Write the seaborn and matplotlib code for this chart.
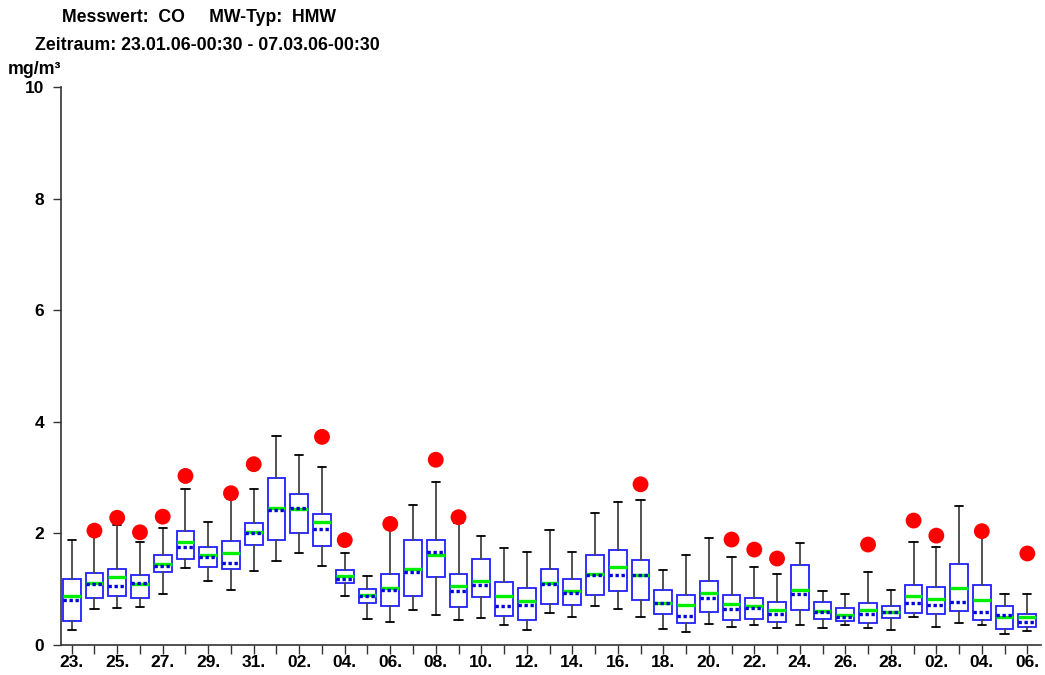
import numpy as np
import pandas as pd
import matplotlib
matplotlib.use("Agg")
import matplotlib.pyplot as plt
import seaborn as sns

days = ["23.", "24.", "25.", "26.", "27.", "28.", "29.", "30.", "31.",
        "01.", "02.", "03.", "04.", "05.", "06.", "07.", "08.", "09.", "10.",
        "11.", "12.", "13.", "14.", "15.", "16.", "17.", "18.", "19.", "20.",
        "21.", "22.", "23.", "24.", "25.", "26.", "27.", "28.",
        "01.", "02.", "03.", "04.", "05.", "06."]

whis_hi = [1.89, 1.95, 2.15, 1.85, 2.10, 2.80, 2.20, 2.61, 2.80, 3.75, 3.40, 3.19,
           1.65, 1.24, 2.16, 2.51, 2.93, 2.18, 1.95, 1.73, 1.67, 2.06, 1.67, 2.36,
           2.57, 2.59, 1.35, 1.62, 1.91, 1.58, 1.39, 1.28, 1.83, 0.96, 0.92, 1.31,
           0.99, 1.84, 1.76, 2.50, 2.02, 0.91, 0.92]
q3 = [1.18, 1.29, 1.37, 1.25, 1.62, 2.04, 1.76, 1.87, 2.19, 2.99, 2.71, 2.34,
      1.34, 1.01, 1.28, 1.88, 1.89, 1.27, 1.54, 1.13, 1.02, 1.37, 1.18, 1.62,
      1.71, 1.52, 0.98, 0.89, 1.15, 0.90, 0.84, 0.77, 1.43, 0.77, 0.66, 0.76,
      0.70, 1.08, 1.04, 1.46, 1.08, 0.70, 0.56]
median = [0.87, 1.11, 1.21, 1.10, 1.46, 1.84, 1.61, 1.64, 2.03, 2.46, 2.43, 2.20,
          1.23, 0.89, 1.03, 1.37, 1.62, 1.05, 1.15, 0.88, 0.78, 1.11, 0.97, 1.28,
          1.39, 1.26, 0.76, 0.72, 0.93, 0.73, 0.70, 0.63, 0.99, 0.61, 0.54, 0.62,
          0.60, 0.88, 0.83, 1.02, 0.81, 0.51, 0.50]
mean = [0.80, 1.09, 1.06, 1.12, 1.42, 1.76, 1.58, 1.47, 2.00, 2.42, 2.45, 2.08,
        1.19, 0.88, 0.99, 1.30, 1.66, 0.97, 1.08, 0.70, 0.72, 1.09, 0.93, 1.25,
        1.25, 1.25, 0.75, 0.52, 0.85, 0.65, 0.66, 0.56, 0.92, 0.59, 0.50, 0.56,
        0.59, 0.75, 0.72, 0.77, 0.60, 0.54, 0.41]
q1 = [0.43, 0.84, 0.87, 0.84, 1.31, 1.54, 1.39, 1.37, 1.79, 1.89, 2.00, 1.77,
      1.11, 0.76, 0.70, 0.88, 1.21, 0.68, 0.86, 0.52, 0.45, 0.73, 0.72, 0.90,
      0.96, 0.81, 0.56, 0.39, 0.60, 0.44, 0.47, 0.41, 0.63, 0.47, 0.43, 0.39,
      0.48, 0.57, 0.56, 0.61, 0.45, 0.28, 0.32]
whis_lo = [0.27, 0.64, 0.67, 0.68, 0.92, 1.38, 1.14, 0.99, 1.32, 1.50, 1.64, 1.42,
           0.87, 0.46, 0.41, 0.62, 0.54, 0.45, 0.48, 0.36, 0.26, 0.57, 0.50, 0.69,
           0.65, 0.51, 0.28, 0.24, 0.38, 0.32, 0.35, 0.31, 0.36, 0.30, 0.36, 0.30,
           0.27, 0.50, 0.33, 0.39, 0.36, 0.19, 0.25]
maximum = [np.nan, 2.05, 2.28, 2.02, 2.30, 3.03, np.nan, 2.72, 3.24, np.nan, np.nan, 3.73,
           1.88, np.nan, 2.17, np.nan, 3.32, 2.29, np.nan, np.nan, np.nan, np.nan, np.nan, np.nan,
           np.nan, 2.88, np.nan, np.nan, np.nan, 1.89, 1.71, 1.55, np.nan, np.nan, np.nan, 1.80,
           np.nan, 2.23, 1.96, np.nan, 2.04, np.nan, 1.64]

sns.set_style("ticks")
plt.rcParams['font.family'] = ['Liberation Sans', 'DejaVu Sans']
plt.rcParams['font.weight'] = 'bold'
for k in ['text.color', 'xtick.color', 'ytick.color', 'axes.labelcolor']:
    plt.rcParams[k] = 'black'

fig = plt.figure(figsize=(10.45, 6.75), dpi=100)
ax = fig.add_axes([61 / 1045, 30 / 675, 980 / 1045, 558 / 675])

pos = np.arange(len(days))
stats = []
for i in range(len(days)):
    stats.append(dict(whislo=whis_lo[i], q1=q1[i], med=median[i], mean=mean[i],
                      q3=q3[i], whishi=whis_hi[i], fliers=[]))

ax.bxp(stats, positions=pos, widths=0.78, showmeans=True, meanline=True,
       showfliers=False, patch_artist=True,
       boxprops=dict(facecolor='white', edgecolor='#2020ff', linewidth=1.3),
       whiskerprops=dict(color='#444444', linewidth=1.3),
       capprops=dict(color='black', linewidth=1.3),
       capwidths=0.36,
       medianprops=dict(color='#00ee00', linewidth=2.4),
       meanprops=dict(color='#0000dd', linestyle=(0, (1.0, 0.8)), linewidth=2.4))

df = pd.DataFrame({"pos": pos, "max": maximum})
sns.scatterplot(data=df, x="pos", y="max", ax=ax, color='#ff0000', s=130,
                edgecolor='none', zorder=5, legend=False)

ax.set_xlim(-0.47, 42.6)
ax.set_ylim(0, 10)
ax.set_yticks([0, 2, 4, 6, 8, 10])
ax.set_yticklabels(["0", "2", "4", "6", "8", "10"])
ax.set_xticks(pos)
ax.set_xticklabels([d if i % 2 == 0 else "" for i, d in enumerate(days)])
ax.tick_params(axis='both', labelsize=12.5, width=1.0, color='#333333',
               labelcolor='black')
ax.tick_params(axis='y', pad=6, length=6)
ax.tick_params(axis='x', pad=0.5, length=6.5)
for lab in ax.get_xticklabels() + ax.get_yticklabels():
    lab.set_fontweight('bold')
ax.set_xlabel("")
ax.set_ylabel("")
sns.despine(ax=ax)
for s in ['left', 'bottom']:
    ax.spines[s].set_linewidth(1.2)
    ax.spines[s].set_color('#333333')

fig.text(62 / 1045, 1 - 18 / 675, "Messwert:  CO     MW-Typ:  HMW", fontsize=12.7,
         fontweight='bold', ha='left', va='center', color='black')
fig.text(35 / 1045, 1 - 46 / 675, "Zeitraum: 23.01.06-00:30 - 07.03.06-00:30", fontsize=12.8,
         fontweight='bold', ha='left', va='center', color='black')
fig.text(8 / 1045, 1 - 70 / 675, "mg/m³", fontsize=12.8, fontweight='bold',
         ha='left', va='center', color='black')

fig.savefig("out.png", dpi=100)
